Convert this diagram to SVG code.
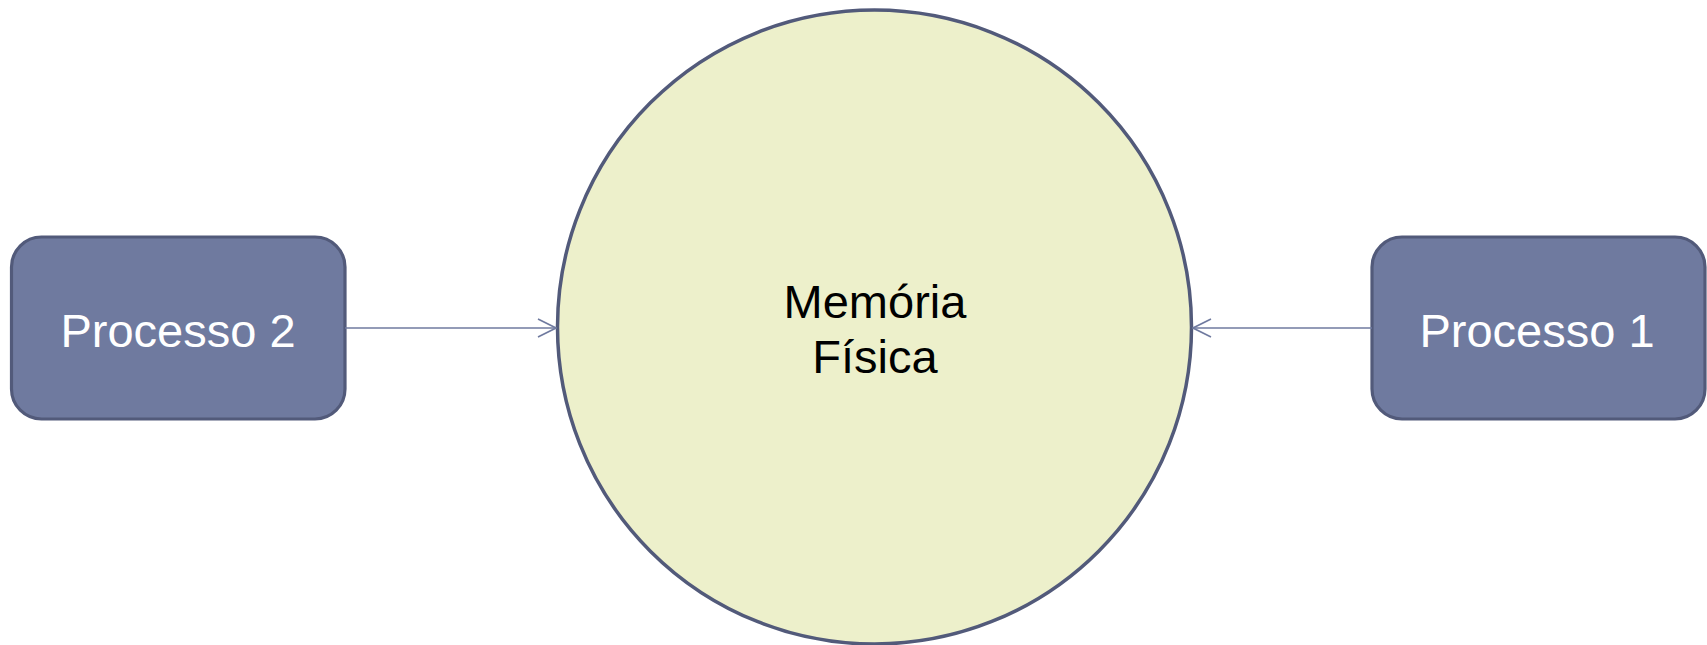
<svg xmlns="http://www.w3.org/2000/svg" width="1707" height="645" viewBox="0 0 1707 645">
  <style>
    .box { fill: #6f7a9f; stroke: #525a7a; stroke-width: 3.2; }
    .circle { fill: #edf0cb; stroke: #525a7a; stroke-width: 3.5; }
    .boxtext { font-family: "Liberation Sans", Arial, sans-serif; font-size: 47px; fill: #ffffff; text-anchor: middle; }
    .ctext { font-family: "Liberation Sans", Arial, sans-serif; font-size: 47px; fill: #000000; text-anchor: middle; }
    .conn { stroke: #6f7a9f; stroke-width: 1.6; fill: none; }
  </style>
  <defs>
    <marker id="arrow" viewBox="0 0 20 20" refX="19" refY="10" markerWidth="20" markerHeight="20" markerUnits="userSpaceOnUse" orient="auto">
      <path d="M1,1 L19,10 L1,19" fill="none" stroke="#6f7a9f" stroke-width="1.6"/>
    </marker>
  </defs>
  <rect width="1707" height="645" fill="#ffffff"/>
  <g id="node-memoria">
    <circle class="circle" cx="874.5" cy="327" r="317"/>
    <text class="ctext" x="875" y="318">Memória</text>
    <text class="ctext" x="875" y="373">Física</text>
  </g>
  <g id="node-processo2">
    <rect class="box" x="11.5" y="237" width="333.5" height="182" rx="30" ry="30"/>
    <text class="boxtext" x="178" y="347">Processo 2</text>
  </g>
  <g id="node-processo1">
    <rect class="box" x="1372" y="237" width="333" height="182" rx="30" ry="30"/>
    <text class="boxtext" x="1537" y="347">Processo 1</text>
  </g>
  <g id="connectors">
    <line class="conn" x1="345" y1="328" x2="556" y2="328" marker-end="url(#arrow)"/>
    <line class="conn" x1="1372" y1="328" x2="1193" y2="328" marker-end="url(#arrow)"/>
  </g>
</svg>
